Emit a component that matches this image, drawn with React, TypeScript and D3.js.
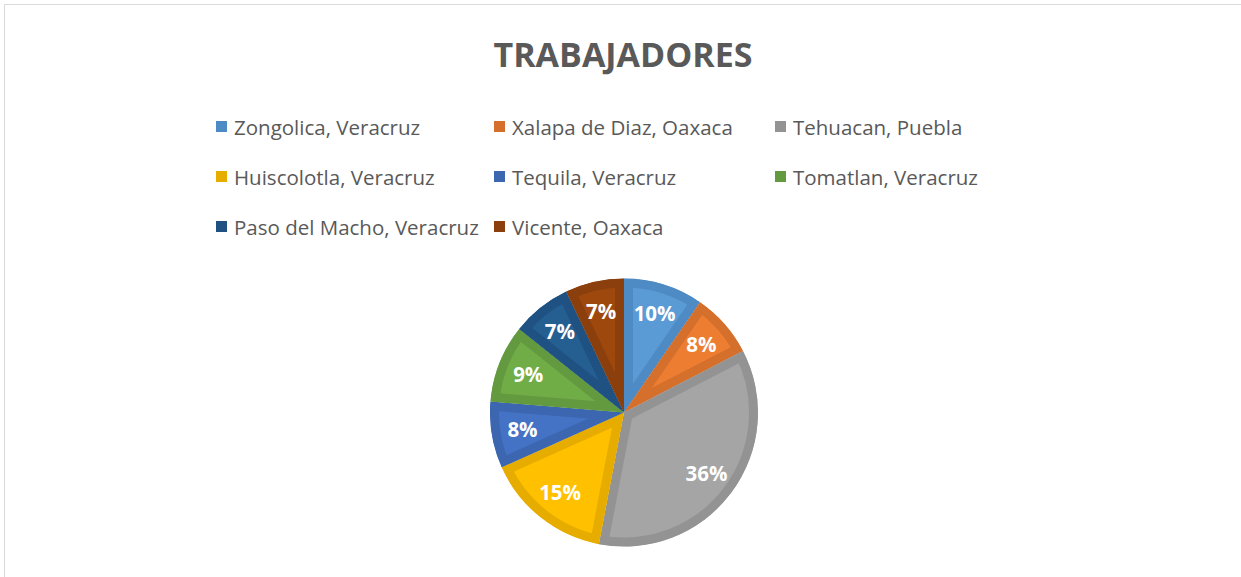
import React, { useEffect } from "react";
import * as d3 from "d3";

const categories = [
  "Zongolica, Veracruz",
  "Xalapa de Diaz, Oaxaca",
  "Tehuacan, Puebla",
  "Huiscolotla, Veracruz",
  "Tequila, Veracruz",
  "Tomatlan, Veracruz",
  "Paso del Macho, Veracruz",
  "Vicente, Oaxaca",
];
const values = [9.6, 7.8, 35.6, 15.3, 8.0, 9.4, 7.2, 7.1];
const lightColors = ["#5B9BD5", "#ED7D31", "#A5A5A5", "#FFC000", "#4472C4", "#70AD47", "#255E91", "#9E480E"];
const darkColors = ["#4E8BC4", "#D4702C", "#939393", "#E6AC00", "#3C66B0", "#63993F", "#1F5282", "#8A3F0C"];

const W = 1241;
const H = 577;
const cx = 624;
const cy = 412.5;
const R = 134;
const band = 9;
const labelR = 103;

const legendCols = [216, 494, 775];
const legendRows = [127, 177, 227];

export default function App() {
  useEffect(() => {
    document.body.style.margin = "0";
  }, []);

  const pie = d3.pie<number>().sort(null).value((d) => d)(values);
  const arc = d3.arc<d3.PieArcDatum<number>>().innerRadius(0).outerRadius(R);
  const total = d3.sum(values);

  return (
    <svg width={W} height={H} style={{ display: "block" }}>
      <rect x={0} y={0} width={W} height={H} fill="#ffffff" />
      <rect x={4.5} y={4.5} width={W + 10} height={H + 10} fill="none" stroke="#D9D9D9" strokeWidth={1} />
      <text
        x={623}
        y={67}
        textAnchor="middle"
        fontFamily="'Open Sans', sans-serif"
        fontWeight={700}
        fontSize={34}
        fill="#595959"
      >
        TRABAJADORES
      </text>
      {categories.map((c, i) => {
        const col = i % 3;
        const row = Math.floor(i / 3);
        const x = legendCols[col];
        const y = legendRows[row];
        return (
          <g key={c}>
            <rect x={x} y={y - 6} width={11} height={11} fill={darkColors[i]} />
            <text
              x={x + 18}
              y={y + 7.5}
              fontFamily="'Open Sans', sans-serif"
              fontSize={20.5}
              fill="#595959"
            >
              {c}
            </text>
          </g>
        );
      })}
      <defs>
        {pie.map((p, i) => (
          <clipPath id={`clip${i}`} key={i}>
            <path d={arc(p) || ""} transform={`translate(${cx},${cy})`} />
          </clipPath>
        ))}
      </defs>
      <g>
        {pie.map((p, i) => (
          <g key={i} clipPath={`url(#clip${i})`}>
            <path
              d={arc(p) || ""}
              transform={`translate(${cx},${cy})`}
              fill={lightColors[i]}
              stroke={darkColors[i]}
              strokeWidth={band * 2}
              strokeLinejoin="miter"
            />
          </g>
        ))}
      </g>
      {pie.map((p, i) => {
        const a = (p.startAngle + p.endAngle) / 2;
        const lx = cx + labelR * Math.sin(a);
        const ly = cy - labelR * Math.cos(a);
        return (
          <text
            key={`l${i}`}
            x={lx}
            y={ly}
            dy="0.35em"
            textAnchor="middle"
            fontFamily="'Open Sans', sans-serif"
            fontWeight={700}
            fontSize={20.5}
            fill="#ffffff"
          >
            {`${Math.round((values[i] / total) * 100)}%`}
          </text>
        );
      })}
    </svg>
  );
}
